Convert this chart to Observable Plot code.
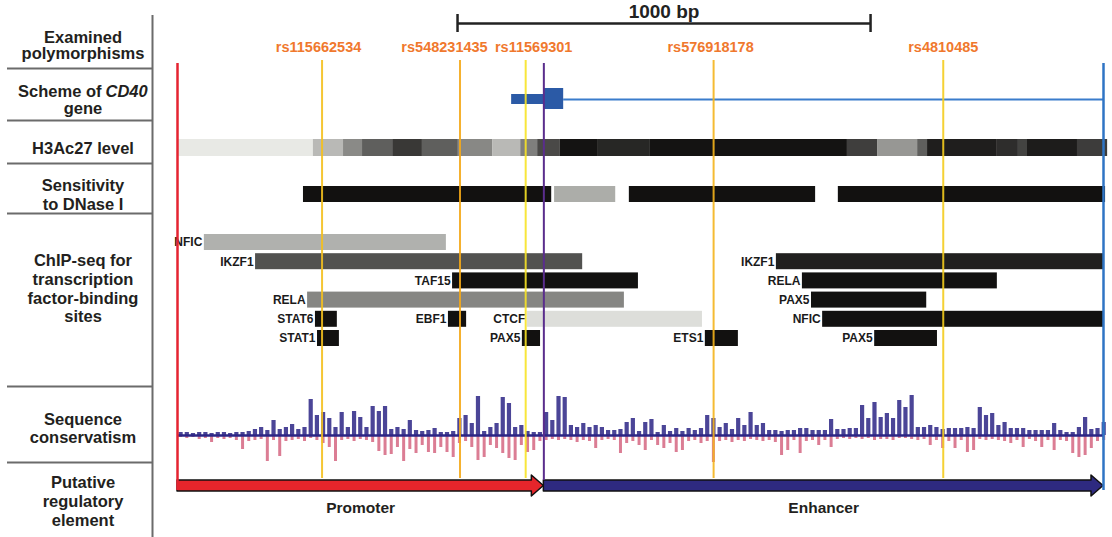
<!DOCTYPE html>
<html><head><meta charset="utf-8">
<script src="https://cdn.jsdelivr.net/npm/d3@7"></script>
<script src="https://cdn.jsdelivr.net/npm/@observablehq/plot@0.6"></script>
<style>
html,body{margin:0;padding:0;background:#fff;}
#wrap{position:relative;width:1112px;height:537px;overflow:hidden;}
#wrap svg{position:absolute;left:0;}
</style></head><body><div id="wrap"></div>
<script>
// ---------------- DATA (genomic coordinates in bp from the left edge) ----------------
const regionLength = 2242;
const tssPos = 887;

const snpIds = ["rs115662534", "rs548231435", "rs11569301", "rs576918178", "rs4810485"];
const snpPos = [350, 684, 843, 1298, 1854];

const scaleBarStart = 678;
const scaleBarLength = 1000;
const scaleBarLabel = "1000 bp";

const geneUtrStart = 809;
const geneCdsStart = 887;
const geneCdsEnd = 935;
const geneEnd = 2242;

const h3Start = [0, 329, 402, 448, 521, 593, 680, 763, 831, 872, 927, 1019, 1145, 1622, 1695, 1792, 1816, 1985, 2036, 2058, 2179];
const h3End   = [329, 402, 448, 521, 593, 680, 763, 831, 872, 927, 1019, 1145, 1622, 1695, 1792, 1816, 1985, 2036, 2058, 2179, 2252];
const h3Level = [0.0, 0.22, 0.44, 0.64, 0.82, 0.64, 0.45, 0.22, 0.49, 0.74, 0.99, 0.9, 0.99, 0.79, 0.38, 0.64, 0.94, 0.87, 0.77, 0.95, 0.8];

const dnaseStart = [305, 913, 1094, 1600];
const dnaseEnd   = [906, 1061, 1545, 2247];
const dnaseLevel = [1, 0.28, 1, 1];

const tfName  = ["NFIC", "IKZF1", "TAF15", "RELA", "STAT6", "STAT1", "EBF1", "CTCF", "PAX5", "IKZF1", "RELA", "PAX5", "NFIC", "ETS1", "PAX5"];
const tfStart = [65, 189, 666, 315, 334, 339, 656, 847, 835, 1450, 1513, 1535, 1562, 1278, 1688];
const tfEnd   = [651, 981, 1116, 1082, 387, 392, 700, 1271, 879, 2242, 1985, 1814, 2242, 1358, 1840];
const tfRow   = [0, 1, 2, 3, 4, 5, 4, 4, 5, 1, 2, 3, 4, 5, 5];
const tfLevel = [0.26, 0.7, 1, 0.46, 1, 1, 1, 0.05, 1, 0.93, 1, 1, 1, 1, 1];

// conservation track, 15-bp bins
const consBin = 15;
const consPos = [3,3,2,3,3,2,3,3,2,3, 3,4,6,8,5,15,6,8,11,6, 8,36,20,23,17,8,23,8,24,18, 8,29,24,29,6,8,6,15,5,4,
  5,7,3,3,4,17,20,12,39,4, 8,12,38,32,8,10,4,3,3,23, 15,39,38,10,8,12,8,10,8,5, 5,6,13,17,4,13,16,3,10,4,
  7,4,7,5,7,20,17,8,12,6, 17,10,23,10,12,5,5,4,5,5, 7,7,5,5,5,16,6,6,7,7, 30,17,33,18,22,17,35,28,40,8,
  8,10,8,6,7,7,7,8,7,28, 20,22,10,13,7,7,7,5,5,5, 5,12,5,3,3,8,18,6,7,13];
const consNeg = [-2,-3,-2,-4,-3,-7,-3,-4,-3,-5, -14,-6,-5,-4,-26,-5,-21,-6,-5,-4, -6,-3,-5,-8,-12,-26,-5,-4,-6,-4, -5,-7,-16,-20,-19,-12,-26,-14,-18,-10,
  -17,-18,-12,-17,-22,-8,-6,-12,-25,-22, -10,-13,-18,-23,-25,-10,-17,-15,-6,-5, -4,-5,-4,-5,-7,-5,-6,-13,-5,-4, -5,-18,-8,-6,-10,-15,-5,-10,-13,-8,
  -17,-15,-6,-5,-8,-6,-27,-6,-5,-7, -5,-6,-4,-5,-6,-5,-7,-20,-15,-5, -18,-6,-5,-10,-5,-12,-4,-3,-4,-3, -4,-3,-5,-4,-4,-5,-3,-3,-4,-5,
  -4,-10,-5,-13,-6,-13,-5,-17,-15,-4, -5,-4,-5,-6,-8,-5,-12,-4,-6,-12, -5,-15,-5,-6,-18,-22,-20,-13,-6,-5];

const regionNames = ["Promoter", "Enhancer"];
const regionStart = [0, 887];
const regionEnd   = [887, 2242];

const trackLabels = ["Examined", "polymorphisms", "gene", "H3Ac27 level", "Sensitivity", "to DNase I",
  "ChIP-seq for", "transcription", "factor-binding", "sites", "Sequence", "conservatism", "Putative", "regulatory", "element"];

// ---------------- LAYOUT ----------------
const W = 1112, H = 537;
const X_RANGE = [177, 1103];
const px2bp = d3.scaleLinear(X_RANGE, [0, regionLength]);
const bpPerPx = regionLength / (X_RANGE[1] - X_RANGE[0]);
const labelY = [37, 53, 108, 148, 185, 204, 260, 279, 298, 316, 419, 437, 482, 501, 520];
const sepY = [68, 120, 163, 213, 386, 462];
const snpColors = ["#f4c01e", "#f4a818", "#f7e326", "#f4b41c", "#f4cc1e"];
const snpLabelShift = [-3.5, -15.5, 8, -3, 0];
const regionColors = ["#e5252b", "#2e2a80"];
const ROW_TOP = 234, ROW_STEP = 19.2, ROW_H = 16;
const FONT = "'Liberation Sans', Arial, Helvetica, sans-serif";

const h3 = h3Start.map((s, i) => ({start: s, end: h3End[i], level: h3Level[i]}));
const dnase = dnaseStart.map((s, i) => ({start: s, end: dnaseEnd[i], level: dnaseLevel[i]}));
const tfs = tfName.map((n, i) => ({name: n, start: tfStart[i], end: tfEnd[i], row: tfRow[i], level: tfLevel[i]}));
const snps = snpIds.map((id, i) => ({id, pos: snpPos[i]}));
const labels = trackLabels.map((t, i) => ({t, y: labelY[i]}));
const cons = consPos.map((v, i) => ({x: i * consBin + consBin / 2, up: v, down: consNeg[i]}));

// ---------------- CONSERVATION (underlay) ----------------
const consPlot = Plot.plot({
  width: W, height: 90,
  marginLeft: 0, marginRight: 0, marginTop: 0, marginBottom: 0,
  style: {background: "transparent", fontFamily: FONT},
  x: {domain: [0, regionLength], range: X_RANGE, axis: null},
  y: {domain: [-35, 55], axis: null},
  marks: [
    Plot.ruleX(cons, {x: "x", y1: 0, y2: "down", stroke: "#c8385a", strokeWidth: 3, strokeOpacity: 0.65}),
    Plot.ruleX(cons, {x: "x", y1: 0, y2: "up", stroke: "#2b2585", strokeWidth: 4.2, strokeOpacity: 0.85}),
    Plot.ruleY([0], {x1: 0, x2: regionLength, stroke: "#2b2585", strokeWidth: 2.5})
  ]
});
consPlot.style.top = "380px";

// ---------------- MAIN ----------------
const rowTop = d => ROW_TOP + d.row * ROW_STEP;
const arrowHead = 12 * bpPerPx;
const arrowMarks = regionNames.map((name, i) => {
  const s = regionStart[i], e = regionEnd[i];
  const pts = [
    {x: s, a: 480, b: 491},
    {x: e - arrowHead, a: 480, b: 491},
    {x: e - arrowHead, a: 475, b: 496},
    {x: e, a: 485.5, b: 485.5}
  ];
  return Plot.areaY(pts, {x: "x", y1: "a", y2: "b", fill: regionColors[i], stroke: "#111", strokeWidth: 1.5, curve: "linear"});
});

const main = Plot.plot({
  width: W, height: H,
  marginLeft: 0, marginRight: 0, marginTop: 0, marginBottom: 0,
  style: {background: "transparent", fontFamily: FONT, color: "#231f20"},
  x: {domain: [0, regionLength], range: X_RANGE, axis: null},
  y: {domain: [0, H], range: [0, H], axis: null},
  color: {type: "linear", domain: [0, 1], range: ["#e8e9e5", "#121110"], interpolate: "rgb"},
  marks: [
    // label column
    Plot.ruleX([px2bp(152)], {y1: 15, y2: H, stroke: "#6b6b6b", strokeWidth: 2}),
    Plot.ruleY(sepY, {x1: px2bp(7), x2: px2bp(152), stroke: "#6b6b6b", strokeWidth: 2}),
    Plot.text(labels, {frameAnchor: "left", dx: 82.5, y: "y", text: "t", textAnchor: "middle", fontSize: 16.5, fontWeight: "bold", fill: "#231f20"}),
    Plot.text(["Scheme of"], {frameAnchor: "left", dx: 101, y: 91, text: d => d, textAnchor: "end", fontSize: 16.5, fontWeight: "bold", fill: "#231f20"}),
    Plot.text(["CD40"], {frameAnchor: "left", dx: 105, y: 91, text: d => d, textAnchor: "start", fontSize: 16.5, fontWeight: "bold", fontStyle: "italic", fill: "#231f20"}),

    // scale bar
    Plot.ruleY([23], {x1: scaleBarStart, x2: scaleBarStart + scaleBarLength, stroke: "#222", strokeWidth: 2.5}),
    Plot.ruleX([scaleBarStart, scaleBarStart + scaleBarLength], {y1: 14, y2: 32, stroke: "#222", strokeWidth: 2.5}),
    Plot.text([scaleBarLabel], {x: scaleBarStart + scaleBarLength / 2, y: 11, text: d => d, fontSize: 19, fontWeight: "bold", fill: "#222"}),

    // gene scheme
    Plot.ruleY([99], {x1: geneCdsEnd, x2: geneEnd, stroke: "#3a7ccc", strokeWidth: 2}),
    Plot.rect([0], {x1: geneUtrStart, x2: geneCdsStart, y1: 94, y2: 104, fill: "#2b5aa6"}),
    Plot.rect([0], {x1: geneCdsStart, x2: geneCdsEnd, y1: 88, y2: 109, fill: "#2b5aa6"}),

    // H3Ac27
    Plot.rect(h3, {x1: "start", x2: "end", y1: 139, y2: 156, fill: "level"}),
    // DNase I
    Plot.rect(dnase, {x1: "start", x2: "end", y1: 186, y2: 202, fill: "level"}),
    // ChIP-seq
    Plot.rect(tfs, {x1: "start", x2: "end", y1: rowTop, y2: d => rowTop(d) + ROW_H, fill: "level"}),
    Plot.text(tfs, {x: "start", y: d => rowTop(d) + ROW_H / 2, text: "name", textAnchor: "end", dx: -2, fontSize: 12, fontWeight: "bold", fill: "#1a1a1a"}),

    // regulatory element arrows
    ...arrowMarks,
    Plot.text(regionNames, {x: (d, i) => (regionStart[i] + regionEnd[i]) / 2, y: 508, text: d => d, fontSize: 15.5, fontWeight: "bold", fill: "#231f20"}),

    // boundary & SNP lines
    Plot.ruleX([0], {y1: 63, y2: 490, stroke: "#e52330", strokeWidth: 2.5}),
    Plot.ruleX([regionLength], {y1: 63, y2: 490, stroke: "#2f74c4", strokeWidth: 2.5}),
    Plot.ruleX([tssPos], {y1: 63, y2: 480, stroke: "#5a2d8c", strokeWidth: 2}),
    ...snps.map((s, i) => Plot.ruleX([s], {x: "pos", y1: 60, y2: 478, stroke: snpColors[i], strokeWidth: 2, strokeOpacity: 0.9})),
    ...snps.map((s, i) => Plot.text([s], {x: "pos", y: 47, text: "id", dx: snpLabelShift[i], fontSize: 14.5, fontWeight: "bold", fill: "#f0782d"}))
  ]
});
main.style.top = "0px";

const wrap = document.getElementById("wrap");
wrap.appendChild(consPlot);
wrap.appendChild(main);
</script></body></html>
